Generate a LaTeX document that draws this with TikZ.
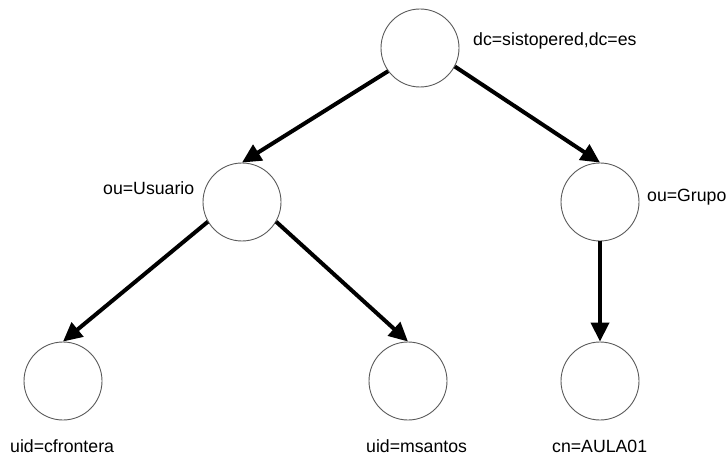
\documentclass[tikz,border=0pt]{standalone}
\usepackage{fontspec}
\setmainfont{Liberation Sans}
\usetikzlibrary{arrows.meta}

\begin{document}
\begin{tikzpicture}[x=1pt,y=-1pt,
    font=\fontsize{17.7}{20}\selectfont,
    entry/.style={circle,draw=black!65,line width=0.9pt,minimum size=78pt,inner sep=0pt},
    dn/.style={anchor=base west,inner sep=0pt},
    link/.style={line width=4pt,-{Triangle[length=19pt,width=18pt]}}]

    \useasboundingbox (0,0) rectangle (728,457);

    % directory entries
    \node[entry] (root) at (420,48)  {};
    \node[entry] (usu)  at (242,202) {};
    \node[entry] (grp)  at (600,202) {};
    \node[entry] (cf)   at (63,381)  {};
    \node[entry] (ms)   at (408,381) {};
    \node[entry] (aula) at (600,381) {};

    % distinguished names
    \node[dn] (rootdn) at (473,46)  {dc=sistopered,dc=es};
    \node[dn] (usudn)  at (103,195) {ou=Usuario};
    \node[dn] (grpdn)  at (647,202) {ou=Grupo};
    \node[dn] (cfdn)   at (10,452)  {uid=cfrontera};
    \node[dn] (msdn)   at (366,452) {uid=msantos};
    \node[dn] (auladn) at (552,452) {cn=AULA01};

    % tree links
    \draw[link] (root.216) -- (usu.north);
    \draw[link] (root.332) -- (grp.north);
    \draw[link] (usu.210)  -- (cf.north);
    \draw[link] (usu.330)  -- (ms.north);
    \draw[link] (grp.south) -- (aula.north);
\end{tikzpicture}
\end{document}
